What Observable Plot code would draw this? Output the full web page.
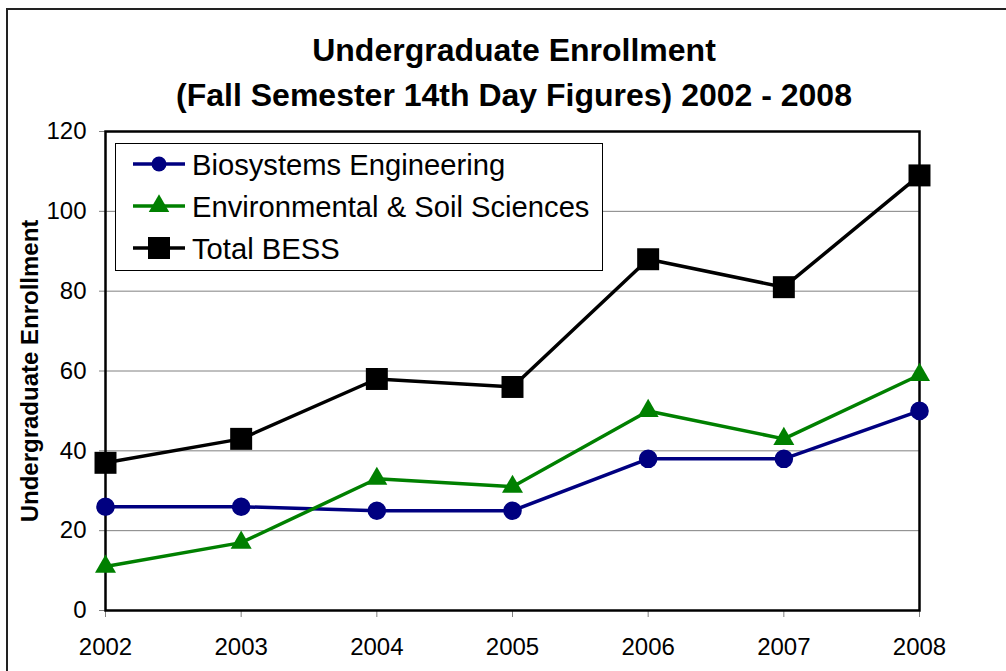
<!DOCTYPE html>
<html>
<head>
<meta charset="utf-8">
<script src="https://cdn.jsdelivr.net/npm/d3@7"></script>
<script src="https://cdn.jsdelivr.net/npm/@observablehq/plot@0.6"></script>
<style>
  html, body { margin: 0; padding: 0; background: #fff; }
  #wrap { position: relative; width: 1006px; height: 671px; overflow: hidden; font-family: "Liberation Sans", Arial, sans-serif; }
  #border { position: absolute; left: 6px; top: 8px; width: 1100px; height: 800px; border: 2px solid #222; box-sizing: border-box; }
  #title { position: absolute; left: 0; top: 28px; width: 1028px; text-align: center; font-weight: bold; font-size: 32px; line-height: 45px; color: #000; }
  #chart { position: absolute; left: 0; top: 0; }
  #legend { position: absolute; left: 115px; top: 143px; }
</style>
</head>
<body>
<div id="wrap">
  <div id="border"></div>
  <div id="chart"></div>
  <div id="title"></div>
  <div id="legend"></div>
</div>
<script>
// ---- data ----
const years = [2002, 2003, 2004, 2005, 2006, 2007, 2008];
const biosystems = [26, 26, 25, 25, 38, 38, 50];
const envSoil = [11, 17, 33, 31, 50, 43, 59];
const totalBESS = [37, 43, 58, 56, 88, 81, 109];
const seriesNames = ["Biosystems Engineering", "Environmental & Soil Sciences", "Total BESS"];
const seriesColors = ["#000080", "#008000", "#000000"];
const seriesSymbols = ["circle", "triangle", "square"];
const seriesR = [9.3, 7.8, 12.4];
const legendR = [7.5, 7.6, 12.4];
const yTicks = [0, 20, 40, 60, 80, 100, 120];
const gridTicks = [20, 40, 60, 80, 100];
const titleLines = ["Undergraduate Enrollment", "(Fall Semester 14th Day Figures) 2002 - 2008"];
const yLabel = "Undergraduate Enrollment";

const seriesValues = [biosystems, envSoil, totalBESS];
const rows = seriesNames.flatMap((name, i) =>
  years.map((year, j) => ({series: name, year, value: seriesValues[i][j]}))
);

const chart = Plot.plot({
  width: 1006,
  height: 671,
  marginLeft: 105,
  marginRight: 87,
  marginTop: 131,
  marginBottom: 61,
  style: {fontFamily: "'Liberation Sans', Arial, sans-serif", fontSize: "24px", background: "transparent", color: "#000"},
  x: {domain: [2002, 2008]},
  y: {domain: [0, 120]},
  marks: [
    Plot.gridY(gridTicks, {stroke: "#808080", strokeOpacity: 1, strokeWidth: 1}),
    Plot.axisY(yTicks, {tickSize: 6, tickPadding: 13, stroke: "#808080", fill: "#000", fontSize: 24, label: null, tickFormat: d => String(d)}),
    Plot.axisX(years, {tickSize: 7, tickPadding: 20, stroke: "#808080", fill: "#000", fontSize: 24, label: null, tickFormat: d => String(d)}),
    Plot.frame({stroke: "#000", strokeWidth: 2.5}),
    Plot.text([yLabel], {frameAnchor: "left", textAnchor: "middle", text: d => d, rotate: -90, dx: -75, fontWeight: "bold", fontSize: 24, fill: "#000"}),
    ...seriesNames.map((name, i) => Plot.line(rows.filter(r => r.series === name), {
      x: "year", y: "value", stroke: seriesColors[i], strokeWidth: 3.5
    })),
    ...seriesNames.map((name, i) => Plot.dot(rows.filter(r => r.series === name), {
      x: "year", y: "value", symbol: () => seriesSymbols[i], fill: seriesColors[i], stroke: "none", r: seriesR[i]
    }))
  ]
});
document.getElementById("chart").appendChild(chart);

document.getElementById("title").innerHTML = titleLines.map(t => `<div>${t.replace(/&/g, "&amp;")}</div>`).join("");

// ---- legend ----
const lw = 488, lh = 128;
const leg = d3.select("#legend").append("svg").attr("width", lw).attr("height", lh)
  .style("font-family", "'Liberation Sans', Arial, sans-serif");
leg.append("rect").attr("x", 0.5).attr("y", 0.5).attr("width", lw - 1).attr("height", lh - 1)
  .attr("fill", "#fff").attr("stroke", "#000").attr("stroke-width", 1);
const symMap = {circle: d3.symbolCircle, triangle: d3.symbolTriangle, square: d3.symbolSquare};
seriesNames.forEach((name, i) => {
  const cy = 21 + i * 42;
  const g = leg.append("g").attr("transform", `translate(0,${cy})`);
  g.append("line").attr("x1", 18).attr("x2", 70).attr("y1", 0).attr("y2", 0)
    .attr("stroke", seriesColors[i]).attr("stroke-width", 3.5);
  g.append("path").attr("transform", "translate(44,0)")
    .attr("d", d3.symbol(symMap[seriesSymbols[i]], Math.PI * legendR[i] * legendR[i])())
    .attr("fill", seriesColors[i]);
  g.append("text").attr("x", 77).attr("y", 0).attr("dy", "0.36em")
    .attr("font-size", 29.2).attr("fill", "#000").text(name);
});
</script>
</body>
</html>
